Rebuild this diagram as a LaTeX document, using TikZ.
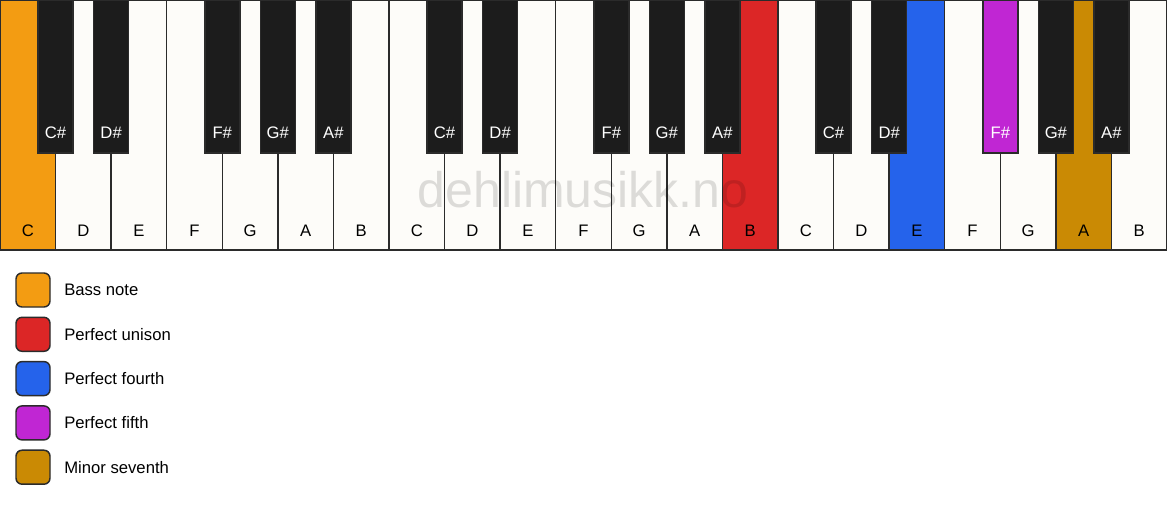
\documentclass[tikz,border=0pt]{standalone}
\usepackage{fontspec}
\setmainfont{Liberation Sans}

\definecolor{keywhite}{HTML}{FDFCF9}
\definecolor{keyblack}{HTML}{1C1C1C}
\definecolor{keyline}{HTML}{2B2B2B}
\definecolor{bassorange}{HTML}{F39C12}
\definecolor{unisonred}{HTML}{DC2626}
\definecolor{fourthblue}{HTML}{2563EB}
\definecolor{fifthpurple}{HTML}{C026D3}
\definecolor{seventhgold}{HTML}{CA8A04}

\tikzset{
	whitekey/.style={draw=keyline, line width=1.1pt},
	blackkey/.style={draw=keyline, line width=1.1pt, fill=keyblack},
	keylabel/.style={font=\fontsize{12.5}{15}\selectfont, text=black},
	sharplabel/.style={keylabel, text=white},
	legendbox/.style={draw=keyline, line width=1.1pt, rounded corners=4.5pt, minimum size=25.5pt, inner sep=0pt},
	legendtext/.style={keylabel, anchor=west, inner sep=0pt},
}

\begin{document}
\begin{tikzpicture}[x=0.75pt, y=-0.75pt]
	\useasboundingbox[fill=white] (0,0) rectangle (1167,506);

	% white keys (width 1167/21)
	\foreach \n/\c [count=\i from 0] in {C/bassorange, D/keywhite, E/keywhite, F/keywhite, G/keywhite, A/keywhite, B/keywhite,
		C/keywhite, D/keywhite, E/keywhite, F/keywhite, G/keywhite, A/keywhite, B/unisonred,
		C/keywhite, D/keywhite, E/fourthblue, F/keywhite, G/keywhite, A/seventhgold, B/keywhite}
	{
		\draw[whitekey, fill=\c] ({\i*55.5714},0) rectangle ({(\i+1)*55.5714},250);
		\node[keylabel] (w\i) at ({(\i+0.5)*55.5714},231) {\n};
	}

	% black keys
	\foreach \o in {0,1,2}
		\foreach \k/\n in {1/C,2/D,4/F,5/G,6/A}
		{
			\draw[blackkey] ({(7*\o+\k)*55.5714-17.5},0) rectangle ({(7*\o+\k)*55.5714+17.5},153);
			\node[sharplabel] (b\o\k) at ({(7*\o+\k)*55.5714},133) {\n\#};
		}
	\draw[blackkey, fill=fifthpurple] ({18*55.5714-17.5},0) rectangle ({18*55.5714+17.5},153);
	\node[sharplabel] (b24) at ({18*55.5714},133) {F\#};

	% watermark
	\node[font=\fontsize{37.5}{40}\selectfont, text=black, text opacity=0.13, anchor=base] (mark) at (583,208) {dehlimusikk.no};

	% legend
	\foreach \c/\t [count=\j from 0] in {bassorange/Bass note, unisonred/Perfect unison, fourthblue/Perfect fourth,
		fifthpurple/Perfect fifth, seventhgold/Minor seventh}
	{
		\node[legendbox, fill=\c] (box\j) at (33,{290+\j*44.3}) {};
		\node[legendtext] (txt\j) at (64,{290+\j*44.3}) {\t};
	}
\end{tikzpicture}
\end{document}
